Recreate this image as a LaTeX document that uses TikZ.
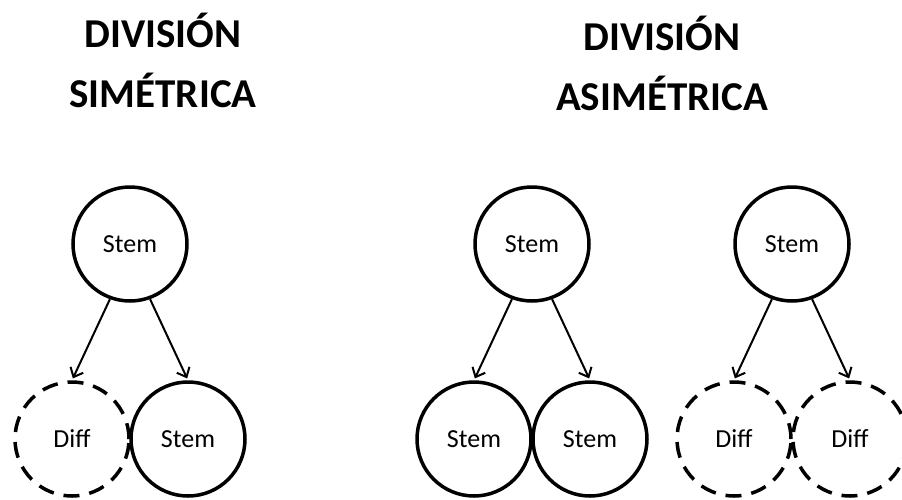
\documentclass[tikz,border=0pt]{standalone}
\usepackage{fontspec}
\setmainfont{Carlito}
\usetikzlibrary{positioning,arrows.meta}

\begin{document}
\begin{tikzpicture}[x=1pt, y=-1pt, node distance=195pt and 58pt, on grid,
	cell/.style={circle, draw, line width=3.5pt, minimum size=114pt, inner sep=0pt, font=\fontsize{26}{30}\selectfont},
	diff/.style={cell, dash pattern=on 16pt off 10pt},
	title/.style={anchor=base, font=\fontsize{41}{48}\selectfont\bfseries},
	split/.style={-{Straight Barb[length=8pt,width=14pt]}, line width=2pt, shorten >=2pt}]
	\useasboundingbox (0,0) rectangle (902,499);
	% titulos
	\node[title] (t_1) at (163,47)  {DIVISIÓN};
	\node[title] (t_2) at (163,107) {SIMÉTRICA};
	\node[title] (t_3) at (662,50)  {DIVISIÓN};
	\node[title] (t_4) at (662,110) {ASIMÉTRICA};
	% simetrica
	\node[cell] (s_1) at (130,244)      {Stem};
	\node[diff] (d_1) [below left=of s_1]  {Diff};
	\node[cell] (s_2) [below right=of s_1] {Stem};
	% asimetrica
	\node[cell] (s_3) at (532,244)      {Stem};
	\node[cell] (s_4) [below left=of s_3]  {Stem};
	\node[cell] (s_5) [below right=of s_3] {Stem};
	\node[cell] (s_6) at (792,244)      {Stem};
	\node[diff] (d_2) [below left=of s_6]  {Diff};
	\node[diff] (d_3) [below right=of s_6] {Diff};
	\path[split] (s_1.-110) edge (d_1.north)
		(s_1.-70) edge (s_2.north)
		(s_3.-110) edge (s_4.north)
		(s_3.-70) edge (s_5.north)
		(s_6.-110) edge (d_2.north)
		(s_6.-70) edge (d_3.north);
\end{tikzpicture}
\end{document}
